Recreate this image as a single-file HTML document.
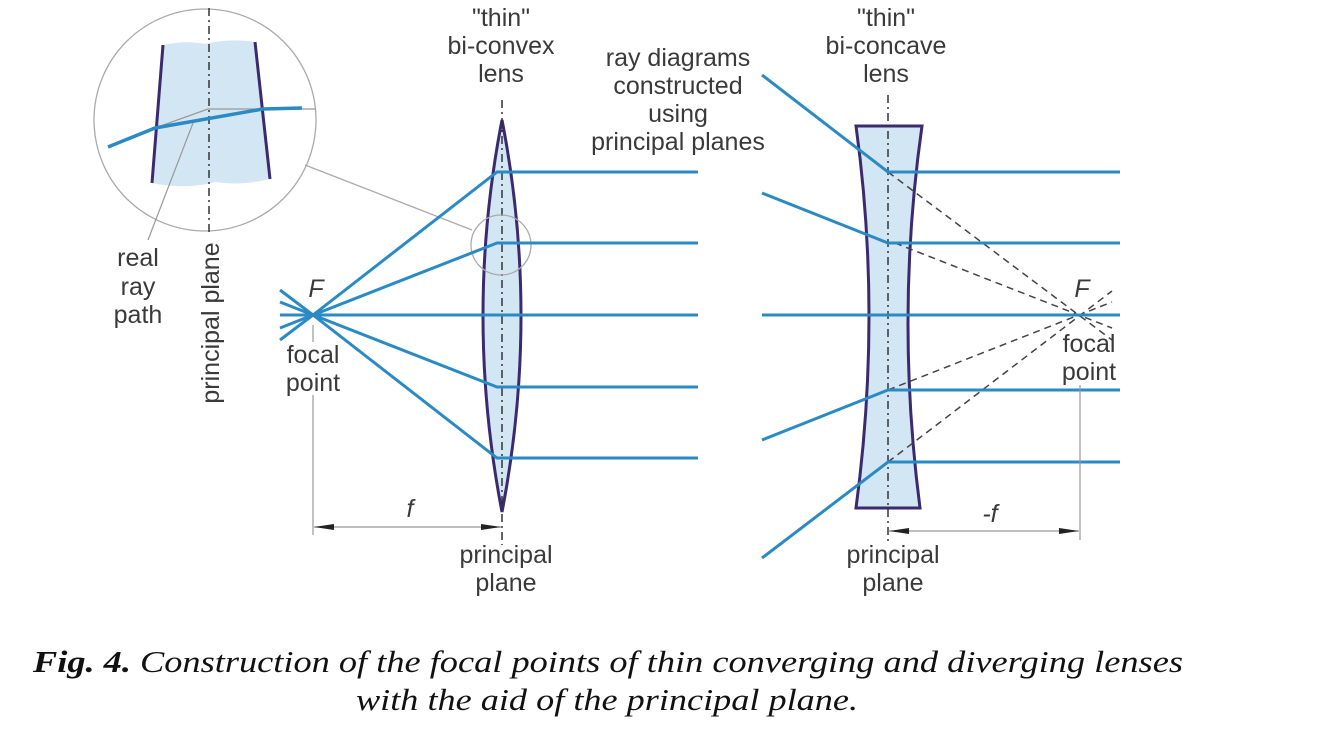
<!DOCTYPE html>
<html><head><meta charset="utf-8"><style>
html,body{margin:0;padding:0;background:#fff;}
svg{display:block;}
text{font-family:"Liberation Sans",sans-serif;fill:#3a3a3a;font-size:25px;}
.cap{font-family:"Liberation Serif",serif;font-style:italic;fill:#111;font-size:31px;}
</style></head><body>
<svg width="1334" height="743" viewBox="0 0 1334 743" xmlns="http://www.w3.org/2000/svg">
<defs>
<marker id="ar" markerWidth="20" markerHeight="8" refX="20" refY="4" orient="auto-start-reverse" markerUnits="userSpaceOnUse">
<path d="M0,1 L20,4 L0,7 Z" fill="#222"/></marker>
</defs>

<circle cx="205" cy="120" r="111" fill="none" stroke="#aaa" stroke-width="1.3"/>
<path d="M163,45 Q185,40 205,44 Q230,38 255,42 L270,179 Q240,186 215,182 Q185,190 152,183 Z" fill="#d3e6f4"/>
<line x1="163" y1="45" x2="152" y2="183" stroke="#3b2a6e" stroke-width="3"/>
<line x1="255" y1="42" x2="270" y2="179" stroke="#3b2a6e" stroke-width="3"/>
<line x1="209" y1="8" x2="209" y2="232" stroke="#333" stroke-width="1.5" stroke-dasharray="8,4,2,4"/>
<polyline points="208,109 263,109 316,109" fill="none" stroke="#999" stroke-width="1.2"/>
<line x1="208" y1="109" x2="155" y2="128" stroke="#999" stroke-width="1.2"/>
<line x1="193" y1="123" x2="148" y2="240" stroke="#999" stroke-width="1.2"/>
<polyline points="108,147 155,128 263,109 302,108" fill="none" stroke="#2a8ac4" stroke-width="3.5"/>
<line x1="305" y1="165" x2="472" y2="230" stroke="#aaa" stroke-width="1.3"/>

<text x="138" y="266" text-anchor="middle">real</text>
<text x="138" y="295" text-anchor="middle">ray</text>
<text x="138" y="323" text-anchor="middle">path</text>
<text transform="translate(219,323) rotate(-90)" text-anchor="middle">principal plane</text>

<path d="M502,120 Q464,315 502,512 Q540,315 502,120 Z" fill="#d3e6f4" stroke="#3b2a6e" stroke-width="3"/>
<line x1="502" y1="100" x2="502" y2="545" stroke="#333" stroke-width="1.5" stroke-dasharray="8,4,2,4"/>
<circle cx="501" cy="245" r="30" fill="none" stroke="#aaa" stroke-width="1.3"/>
<g stroke="#2a8ac4" stroke-width="3" fill="none">
<polyline points="280,290 313,315 497,172 502,172 698,172"/>
<polyline points="280,302 313,315 497,243 502,243 698,243"/>
<polyline points="280,315 698,315"/>
<polyline points="280,328 313,315 497,387 502,387 698,387"/>
<polyline points="280,340 313,315 497,458 502,458 698,458"/>
</g>
<text x="316" y="297" text-anchor="middle" font-style="italic">F</text>
<text x="313" y="363" text-anchor="middle">focal</text>
<text x="313" y="391" text-anchor="middle">point</text>
<line x1="313" y1="395" x2="313" y2="535" stroke="#999" stroke-width="1.2"/>
<line x1="313" y1="325" x2="313" y2="342" stroke="#999" stroke-width="1.2"/>
<line x1="314" y1="527" x2="501" y2="527" stroke="#999" stroke-width="1.2" marker-start="url(#ar)" marker-end="url(#ar)"/>
<text x="410" y="517" text-anchor="middle" font-style="italic">f</text>
<text x="501" y="26" text-anchor="middle">"thin"</text>
<text x="501" y="54" text-anchor="middle">bi-convex</text>
<text x="501" y="82" text-anchor="middle">lens</text>
<text x="506" y="563" text-anchor="middle">principal</text>
<text x="506" y="591" text-anchor="middle">plane</text>

<text x="678" y="66" text-anchor="middle">ray diagrams</text>
<text x="678" y="94" text-anchor="middle">constructed</text>
<text x="678" y="122" text-anchor="middle">using</text>
<text x="678" y="150" text-anchor="middle">principal planes</text>

<path d="M856,126 L922,126 Q895,315 920,508 L856,508 Q882,315 856,126 Z" fill="#d3e6f4" stroke="#3b2a6e" stroke-width="3"/>
<line x1="888" y1="95" x2="888" y2="545" stroke="#333" stroke-width="1.5" stroke-dasharray="8,4,2,4"/>
<g stroke="#444" stroke-width="1.5" stroke-dasharray="7,5" fill="none">
<line x1="888" y1="172" x2="1112" y2="340"/>
<line x1="895" y1="243" x2="1112" y2="328"/>
<line x1="888" y1="390" x2="1112" y2="302"/>
<line x1="888" y1="462" x2="1112" y2="291"/>
</g>
<g stroke="#2a8ac4" stroke-width="3" fill="none">
<polyline points="762,75 888,172 1120,172"/>
<polyline points="762,193 888,243 1120,243"/>
<polyline points="762,315 1120,315"/>
<polyline points="762,440 888,390 1120,390"/>
<polyline points="762,558 888,462 1120,462"/>
</g>
<text x="1082" y="297" text-anchor="middle" font-style="italic">F</text>
<text x="1089" y="352" text-anchor="middle">focal</text>
<text x="1089" y="380" text-anchor="middle">point</text>
<line x1="1080" y1="385" x2="1080" y2="540" stroke="#999" stroke-width="1.2"/>
<line x1="889" y1="531" x2="1079" y2="531" stroke="#999" stroke-width="1.2" marker-start="url(#ar)" marker-end="url(#ar)"/>
<text x="990" y="522" text-anchor="middle" font-style="italic">-f</text>
<text x="886" y="26" text-anchor="middle">"thin"</text>
<text x="886" y="54" text-anchor="middle">bi-concave</text>
<text x="886" y="82" text-anchor="middle">lens</text>
<text x="893" y="563" text-anchor="middle">principal</text>
<text x="893" y="591" text-anchor="middle">plane</text>

<text class="cap" x="33" y="672" textLength="1150" lengthAdjust="spacingAndGlyphs"><tspan font-weight="bold">Fig. 4.</tspan> Construction of the focal points of thin converging and diverging lenses</text>
<text class="cap" x="356" y="710" textLength="502" lengthAdjust="spacingAndGlyphs">with the aid of the principal plane.</text>
</svg>
</body></html>
